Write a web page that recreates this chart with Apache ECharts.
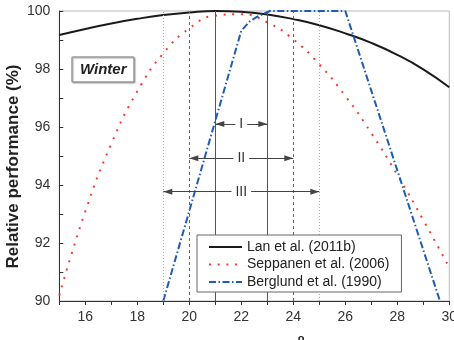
<!DOCTYPE html>
<html>
<head>
<meta charset="utf-8">
<script src="https://cdn.jsdelivr.net/npm/echarts@6/dist/echarts.min.js"></script>
<style>
  html, body { margin: 0; padding: 0; background: #fff; }
  #chart { width: 454px; height: 340px; }
</style>
</head>
<body>
<div id="chart"></div>
<script>
// Indoor temperature (°C) at which each model is evaluated
const temps = [15, 16, 17, 18, 19, 20, 21, 22, 23, 24, 25, 26, 27, 28, 29, 30];

// Relative performance (%) of the three models
const lanValues      = [99.17, 99.38, 99.57, 99.73, 99.86, 99.95, 100.0, 99.97, 99.88, 99.72, 99.51, 99.23, 98.90, 98.49, 97.99, 97.37];
const seppanenValues = [90.19, 93.09, 95.42, 97.23, 98.54, 99.40, 99.84, 99.89, 99.61, 99.02, 98.16, 97.07, 95.79, 94.35, 92.79, 91.15];
const berglundTemps  = [19, 22, 22.3, 22.6, 22.85, 23.1, 26, 29.64];
const berglundValues = [90, 99.32, 99.62, 99.80, 99.90, 100, 100, 90];

// Comfort ranges I, II, III: bounds (°C) and the level where each arrow is drawn
const rangeNames  = ['I', 'II', 'III'];
const rangeFrom   = [21, 20, 19];
const rangeTo     = [23, 24, 25];
const rangeLevels = [96.10, 94.92, 93.77];

const seriesNames = ['Lan et al. (2011b)', 'Seppanen et al. (2006)', 'Berglund et al. (1990)'];

const FONT = '"Liberation Sans", Arial, sans-serif';
const boundStyles = [
  { color: '#555', width: 1, type: 'solid' },
  { color: '#666', width: 1, type: [3, 3] },
  { color: '#aaa', width: 1, type: [1, 2] }
];

// vertical boundary lines, one pair per range
const boundLines = [];
rangeNames.forEach((n, i) => {
  [rangeFrom[i], rangeTo[i]].forEach(t => {
    boundLines.push({ xAxis: t, lineStyle: boundStyles[i], label: { show: false }, symbol: 'none' });
  });
});

// double-headed arrows with the range name in the middle
const arrowLines = rangeNames.map((n, i) => [
  { coord: [rangeFrom[i], rangeLevels[i]], name: n },
  { coord: [rangeTo[i], rangeLevels[i]] }
]);

const chart = echarts.init(document.getElementById('chart'), null, { renderer: 'canvas' });

chart.setOption({
  animation: false,
  textStyle: { fontFamily: FONT },
  grid: {
    left: 59.3, right: 4.7, top: 11, bottom: 39,
    containLabel: false, outerBoundsMode: 'none',
    show: true, borderColor: '#bbb', borderWidth: 1, backgroundColor: 'transparent'
  },
  title: {
    text: 'Winter',
    left: 72, top: 57,
    padding: [5, 8],
    borderColor: '#999', borderWidth: 1.5, borderRadius: 1,
    backgroundColor: '#fff',
    shadowColor: 'rgba(0,0,0,0.25)', shadowBlur: 1, shadowOffsetX: 1, shadowOffsetY: 1,
    textStyle: { fontSize: 15, fontWeight: 'bold', fontStyle: 'italic', color: '#222', fontFamily: FONT }
  },
  legend: {
    orient: 'vertical',
    left: 197, top: 235,
    z: 20,
    padding: [5, 12, 3, 11],
    itemWidth: 33, itemHeight: 14, itemGap: 3.5,
    itemStyle: { opacity: 0 },
    backgroundColor: '#fff', borderColor: '#666', borderWidth: 1,
    textStyle: { fontSize: 14, color: '#222', fontFamily: FONT },
    data: seriesNames
  },
  xAxis: {
    type: 'value', min: 15, max: 30, interval: 1,
    axisLine: { lineStyle: { color: '#333', width: 1 } },
    axisTick: { show: true, inside: false, length: 4, lineStyle: { color: '#333' } },
    axisLabel: {
      fontSize: 14, color: '#333', margin: 9, fontFamily: FONT,
      formatter: v => (v % 2 === 0 ? String(v) : '')
    },
    splitLine: { show: false }
  },
  yAxis: {
    type: 'value', min: 90, max: 100, interval: 2,
    axisLine: { show: true, lineStyle: { color: '#333', width: 1 } },
    axisTick: { show: true, inside: true, length: 4, lineStyle: { color: '#333' } },
    minorTick: { show: true, splitNumber: 2, length: 4, lineStyle: { color: '#333' } },
    axisLabel: { fontSize: 14, color: '#333', margin: 9, fontFamily: FONT },
    splitLine: { show: false }
  },
  graphic: [
    {
      type: 'text', x: 13, y: 166.5, rotation: Math.PI / 2, silent: true,
      style: {
        text: 'Relative performance (%)', fill: '#222',
        font: 'bold 17px ' + FONT, align: 'center', verticalAlign: 'middle'
      }
    },
    {
      type: 'text', x: 254, y: 333, silent: true,
      style: {
        text: '{m|Temperature (}{s|o}{m|C)}',
        align: 'center', verticalAlign: 'top', fill: '#222',
        rich: {
          m: { fontSize: 17, fontWeight: 'bold', fontFamily: FONT, verticalAlign: 'bottom', fill: '#222' },
          s: { fontSize: 11, fontWeight: 'bold', fontFamily: FONT, verticalAlign: 'top', padding: [0, 0, 14, 0], fill: '#222' }
        }
      }
    }
  ],
  series: [
    {
      name: 'range bounds', type: 'line', data: [], silent: true,
      markLine: { silent: true, symbol: 'none', animation: false, data: boundLines }
    },
    {
      name: 'range arrows', type: 'line', data: [], silent: true,
      markLine: {
        silent: true, animation: false,
        symbol: ['triangle', 'triangle'], symbolSize: [6, 9],
        symbolOffset: [[0, 4.5], [0, 4.5]],
        lineStyle: { color: '#444', width: 1, type: 'solid' },
        itemStyle: { color: '#333' },
        label: {
          show: true, position: 'insideMiddle', distance: 0,
          formatter: p => p.name,
          fontSize: 14, color: '#333', fontFamily: FONT,
          backgroundColor: '#fff', padding: [0, 4]
        },
        data: arrowLines
      }
    },
    {
      name: seriesNames[0], type: 'line', smooth: true, showSymbol: false, symbol: 'none',
      color: '#1a1a1a',
      lineStyle: { color: '#1a1a1a', width: 2 },
      data: temps.map((t, i) => [t, lanValues[i]]),
      z: 3
    },
    {
      name: seriesNames[1], type: 'line', smooth: true, showSymbol: false, symbol: 'none',
      color: '#ee3f33',
      lineStyle: { color: '#ee3f33', width: 2, type: [2, 6.7] },
      data: temps.map((t, i) => [t, seppanenValues[i]]),
      z: 3
    },
    {
      name: seriesNames[2], type: 'line', smooth: false, showSymbol: false, symbol: 'none',
      color: '#1f5cb4',
      lineStyle: { color: '#1f5cb4', width: 2, type: [7, 2.5, 1.5, 2.5] },
      data: berglundTemps.map((t, i) => [t, berglundValues[i]]),
      z: 3
    }
  ]
});
</script>
</body>
</html>
